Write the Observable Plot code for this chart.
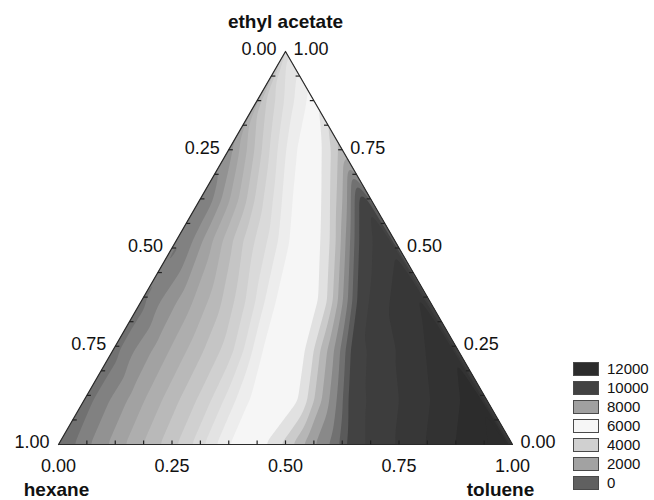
<!DOCTYPE html>
<html>
<head>
<meta charset="utf-8">
<script src="https://cdn.jsdelivr.net/npm/d3@7"></script>
<script src="https://cdn.jsdelivr.net/npm/@observablehq/plot@0.6"></script>
<style>
  html, body { margin: 0; padding: 0; background: #fff; }
  #wrap { position: relative; width: 654px; height: 500px; font-family: "Liberation Sans", Arial, sans-serif; }
  #legend { position: absolute; left: 573px; top: 362px; }
  .lrow { position: relative; height: 19px; }
  .sw { position: absolute; left: 0; top: 0; width: 24px; height: 12px; border: 1px solid #4a4a4a; }
  .lt { position: absolute; left: 34px; top: -2px; font-size: 15px; line-height: 17px; color: #111; }
</style>
</head>
<body>
<div id="wrap"></div>
<script>
// ---- data ----
// rows of constant ethyl-acetate fraction; in each row, toluene fractions where the response takes given values
const eaRows = [0, 0.112, 0.239, 0.366, 0.519, 0.621, 0.748, 0.875, 1];
const tolueneByRow = [
  [0, 0.051, 0.128, 0.205, 0.280, 0.335, 0.374, 0.460, 0.504, 0.551, 0.610, 0.643, 0.775, 0.907, 1],
  [0, 0.037, 0.114, 0.191, 0.266, 0.321, 0.360, 0.477, 0.499, 0.532, 0.565, 0.587, 0.730, 0.862, 0.888],
  [0, 0.028, 0.105, 0.182, 0.255, 0.299, 0.325, 0.429, 0.449, 0.480, 0.508, 0.528, 0.656, 0.761],
  [0, 0.024, 0.097, 0.163, 0.218, 0.262, 0.291, 0.394, 0.416, 0.438, 0.460, 0.478, 0.570, 0.634],
  [0, 0.025, 0.069, 0.113, 0.159, 0.214, 0.245, 0.322, 0.346, 0.368, 0.388, 0.406, 0.481],
  [0, 0.020, 0.057, 0.095, 0.130, 0.172, 0.201, 0.273, 0.295, 0.322, 0.337, 0.355, 0.379],
  [0, 0.016, 0.049, 0.082, 0.117, 0.148, 0.210, 0.234, 0.252],
  [0, 0.030, 0.069, 0.107, 0.125],
  [0]
];
const valueByRow = [
  [200, 1000, 2000, 3000, 4000, 5000, 5750, 6250, 7000, 8000, 9000, 10000, 11000, 12000, 12600],
  [450, 1000, 2000, 3000, 4000, 5000, 5750, 6250, 7000, 8000, 9000, 10000, 11000, 12000, 12300],
  [450, 1000, 2000, 3000, 4000, 5000, 5750, 6250, 7000, 8000, 9000, 10000, 11000, 11800],
  [500, 1000, 2000, 3000, 4000, 5000, 5750, 6250, 7000, 8000, 9000, 10000, 11000, 11400],
  [500, 1000, 2000, 3000, 4000, 5000, 5750, 6250, 7000, 8000, 9000, 10000, 10700],
  [600, 1000, 2000, 3000, 4000, 5000, 5750, 6250, 7000, 8000, 9000, 10000, 10300],
  [1400, 2000, 3000, 4000, 5000, 5750, 6250, 7000, 7600],
  [3200, 4000, 5000, 5750, 5950],
  [4700]
];
const legendValues = [0, 2000, 4000, 6000, 8000, 10000, 12000];
const legendColors = ["#606060", "#a2a2a2", "#d0d0d0", "#f6f6f6", "#a0a0a0", "#424242", "#2c2c2c"];
const axisFractions = [0, 0.25, 0.5, 0.75, 1];
const axisLabels = ["0.00", "0.25", "0.50", "0.75", "1.00"];
const tickFractions = [0.0625, 0.125, 0.1875, 0.25, 0.3125, 0.375, 0.4375, 0.5, 0.5625, 0.625, 0.6875, 0.75, 0.8125, 0.875, 0.9375];
const componentNames = ["hexane", "toluene", "ethyl acetate"];

// ---- build tables ----
const SQ = Math.sqrt(3) / 2;
const samples = [];
eaRows.forEach((e, i) => tolueneByRow[i].forEach((t, j) => samples.push({t, e, v: valueByRow[i][j]})));
const X = d => d.t + d.e / 2;
const Y = d => d.e * SQ;
const corners = [{t: 0, e: 0}, {t: 1, e: 0}, {t: 0, e: 1}, {t: 0, e: 0}];
const L = 0.009;
const baseTicks = tickFractions.map(f => ({t: f, e: 0}));
const leftTicks = tickFractions.map(f => ({t: 0, e: 1 - f}));
const rightTicks = tickFractions.map(f => ({t: 1 - f, e: f}));
const bottomLab = axisFractions.map((f, i) => ({t: f, e: 0, label: axisLabels[i]}));
const leftLab = axisFractions.map((f, i) => ({t: 0, e: 1 - f, label: axisLabels[i]}));
const rightLab = axisFractions.map((f, i) => ({t: 1 - f, e: f, label: axisLabels[i]}));
const shiftedDomain = legendValues.map(v => v - 250);

const font = "Liberation Sans, Arial, Helvetica, sans-serif";
const chart = Plot.plot({
  width: 654, height: 500,
  marginLeft: 58, marginRight: 142, marginTop: 51, marginBottom: 56,
  x: {domain: [0, 1], axis: null},
  y: {domain: [0, SQ], axis: null},
  color: {type: "linear", domain: shiftedDomain, range: legendColors, clamp: true},
  style: {fontFamily: font, fontSize: "18px", color: "#111", background: "#fff", overflow: "visible"},
  marks: [
    Plot.contour(samples, {
      x: X, y: Y, value: "v", fill: "value", stroke: "none",
      interpolate: "barycentric", pixelSize: 1, blur: 3,
      thresholds: d3.range(-250, 13500, 500)
    }),
    Plot.line(corners, {x: X, y: Y, stroke: "#2a2a2a", strokeWidth: 1.2}),
    Plot.link(baseTicks, {x1: X, y1: Y, x2: X, y2: d => Y(d) + L, stroke: "#222", strokeWidth: 1.2}),
    Plot.link(leftTicks, {x1: X, y1: Y, x2: d => X(d) + L, y2: Y, stroke: "#222", strokeWidth: 1.2}),
    Plot.link(rightTicks, {x1: X, y1: Y, x2: d => X(d) - L, y2: Y, stroke: "#222", strokeWidth: 1.2}),
    Plot.text(bottomLab, {x: X, y: Y, text: "label", textAnchor: "middle", dy: 22, fontSize: 18, fill: "#111"}),
    Plot.text(leftLab, {x: X, y: Y, text: "label", textAnchor: "end", dx: -9, dy: -2, fontSize: 18, fill: "#111"}),
    Plot.text(rightLab, {x: X, y: Y, text: "label", textAnchor: "start", dx: 8, dy: -2, fontSize: 18, fill: "#111"}),
    Plot.text([{t: 0, e: 1, name: componentNames[2]}], {x: X, y: Y, text: "name", dy: -30, fontSize: 19, fontWeight: "bold", fill: "#111"}),
    Plot.text([{t: 0, e: 0, name: componentNames[0]}], {x: X, y: Y, text: "name", dx: -2, dy: 45, fontSize: 19, fontWeight: "bold", fill: "#111"}),
    Plot.text([{t: 1, e: 0, name: componentNames[1]}], {x: X, y: Y, text: "name", dx: -12, dy: 45, fontSize: 19, fontWeight: "bold", fill: "#111"})
  ]
});

// clip the contour fill to the ternary triangle using the plot's own scales
const xs = chart.scale("x"), ys = chart.scale("y");
const ns = "http://www.w3.org/2000/svg";
const defs = document.createElementNS(ns, "defs");
const cp = document.createElementNS(ns, "clipPath");
cp.setAttribute("id", "tri-clip");
const poly = document.createElementNS(ns, "polygon");
poly.setAttribute("points", corners.slice(0, 3).map(c => `${xs.apply(X(c))},${ys.apply(Y(c))}`).join(" "));
cp.appendChild(poly);
defs.appendChild(cp);
chart.insertBefore(defs, chart.firstChild);
const cg = chart.querySelector('g[aria-label="contour"]');
if (cg) cg.setAttribute("clip-path", "url(#tri-clip)");

const wrap = document.getElementById("wrap");
wrap.appendChild(chart);

// legend (descending, as in the reference)
const leg = d3.select(wrap).append("div").attr("id", "legend");
const rows = leg.selectAll("div").data(legendValues.map((v, i) => ({v, c: legendColors[i]})).reverse())
  .join("div").attr("class", "lrow");
rows.append("div").attr("class", "sw").style("background", d => d.c);
rows.append("div").attr("class", "lt").text(d => d.v);
</script>
</body>
</html>
